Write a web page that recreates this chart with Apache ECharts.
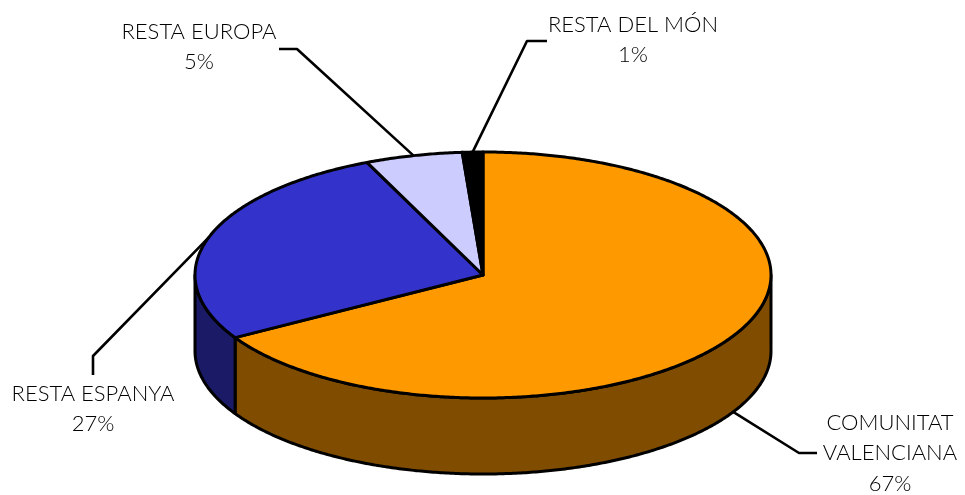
<!DOCTYPE html>
<html><head><meta charset="utf-8">
<style>html,body{margin:0;padding:0;background:#fff}#c{width:965px;height:495px}</style>
<script src="https://cdn.jsdelivr.net/npm/echarts@6/dist/echarts.min.js"></script>
</head><body><div id="c"></div>
<script>
const categories = ['COMUNITAT\nVALENCIANA', 'RESTA ESPANYA', 'RESTA EUROPA', 'RESTA DEL MÓN'];
const values = [66.5, 26.9, 5.45, 1.15];
const topColors = ['#FF9900', '#3333CC', '#CCCCFF', '#000000'];
const sideColors = ['#804D00', '#1A1A66', '#666680', '#000000'];

const geo = { cx: 483, cy: 275, rx: 288, ry: 123, depth: 76 };
const leaderBends = [[[799, 453], [817, 453]], [[93, 356], [93, 375]], [[297, 49], [279, 49]], [[527, 41], [547, 41]]];
const labelCenters = [[890, 453], [93, 409], [199, 47], [633, 40]];
const fontFamily = 'Lato, "Open Sans", sans-serif';

const total = values.reduce((a, b) => a + b, 0);
// angle t in degrees, clockwise from +x on the ellipse; the first slice starts at the top
function bounds(i) {
  const before = values.slice(0, i).reduce((a, b) => a + b, 0);
  return [-90 + before / total * 360, -90 + (before + values[i]) / total * 360];
}
function pt(t, dy) {
  const r = t * Math.PI / 180;
  return [geo.cx + geo.rx * Math.cos(r), geo.cy + geo.ry * Math.sin(r) + (dy || 0)];
}
function arc(a, b, dy) {
  const out = [], n = Math.max(2, Math.ceil(Math.abs(b - a) * 2));
  for (let k = 0; k <= n; k++) out.push(pt(a + (b - a) * k / n, dy));
  return out;
}
const line = { stroke: '#000', lineWidth: 3, lineJoin: 'round' };
const seriesData = values.map((v, i) => ({ name: categories[i], value: [v] }));

function renderSide(params) {
  const i = params.dataIndex;
  const [a, b] = bounds(i);
  const lo = Math.max(a, 0), hi = Math.min(b, 180);
  if (hi <= lo) return { type: 'group', children: [] };
  const points = arc(lo, hi, 0).concat(arc(hi, lo, geo.depth));
  return { type: 'polygon', shape: { points }, style: Object.assign({ fill: sideColors[i] }, line) };
}
function renderTop(params) {
  const i = params.dataIndex;
  const [a, b] = bounds(i);
  const points = [[geo.cx, geo.cy]].concat(arc(a, b, 0));
  return { type: 'polygon', shape: { points }, style: Object.assign({ fill: topColors[i] }, line) };
}
function renderLabel(params, api) {
  const i = params.dataIndex;
  const [a, b] = bounds(i);
  const mid = (a + b) / 2;
  const anchor = pt(mid, mid > 0 && mid < 180 ? geo.depth : 0);
  const c = labelCenters[i];
  return {
    type: 'group',
    children: [
      { type: 'polyline', shape: { points: [anchor].concat(leaderBends[i]) },
        style: { stroke: '#000', lineWidth: 2.6, fill: null, lineJoin: 'round' } },
      { type: 'text', x: c[0], y: c[1],
        style: { text: categories[i] + '\n' + Math.round(api.value(0)) + '%', fill: '#000',
          font: '300 22px ' + fontFamily, lineHeight: 30.5, align: 'center', verticalAlign: 'middle' } }
    ]
  };
}
const chart = echarts.init(document.getElementById('c'), null, { renderer: 'canvas' });
chart.setOption({
  animation: false,
  backgroundColor: '#fff',
  series: [
    { type: 'custom', coordinateSystem: 'none', z: 1, silent: true, data: seriesData, renderItem: renderSide },
    { type: 'custom', coordinateSystem: 'none', z: 2, silent: true, data: seriesData, renderItem: renderTop },
    { type: 'custom', coordinateSystem: 'none', z: 3, silent: true, data: seriesData, renderItem: renderLabel }
  ]
});
</script></body></html>
